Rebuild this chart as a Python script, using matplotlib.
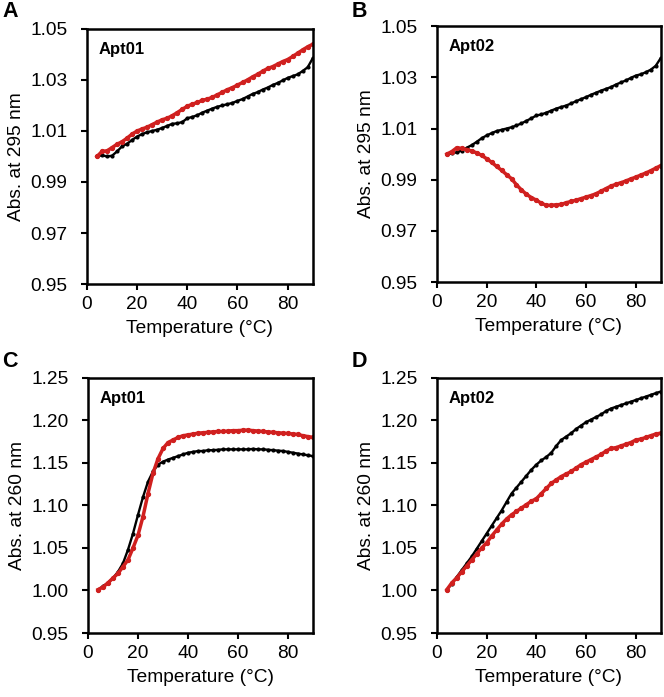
import matplotlib
matplotlib.use("Agg")
import matplotlib.pyplot as plt

plt.rcParams['font.family'] = ['Liberation Sans', 'DejaVu Sans']

# temperature grid (deg C)
temp = list(range(4, 91, 2))

# panel A - Apt01, Abs. at 295 nm
a_black = [1.0000, 1.0005, 1.0000, 1.0003, 1.0020, 1.0040, 1.0050, 1.0065, 1.0078, 1.0088,
           1.0095, 1.0100, 1.0105, 1.0112, 1.0120, 1.0128, 1.0130, 1.0135, 1.0150, 1.0155,
           1.0162, 1.0172, 1.0180, 1.0188, 1.0195, 1.0200, 1.0205, 1.0210, 1.0218, 1.0225,
           1.0235, 1.0245, 1.0252, 1.0262, 1.0270, 1.0280, 1.0288, 1.0298, 1.0308, 1.0315,
           1.0322, 1.0335, 1.0350, 1.0385]
a_red = [1.0000, 1.0020, 1.0022, 1.0035, 1.0048, 1.0058, 1.0072, 1.0088, 1.0100, 1.0108,
         1.0115, 1.0125, 1.0135, 1.0144, 1.0150, 1.0160, 1.0172, 1.0185, 1.0197, 1.0205,
         1.0212, 1.0220, 1.0225, 1.0232, 1.0242, 1.0252, 1.0262, 1.0270, 1.0280, 1.0290,
         1.0300, 1.0312, 1.0322, 1.0334, 1.0345, 1.0352, 1.0362, 1.0372, 1.0380, 1.0392,
         1.0405, 1.0418, 1.0430, 1.0440]

# panel B - Apt02, Abs. at 295 nm
b_black = [1.0000, 1.0003, 1.0007, 1.0014, 1.0025, 1.0035, 1.0048, 1.0062, 1.0073, 1.0082,
           1.0090, 1.0095, 1.0100, 1.0105, 1.0112, 1.0120, 1.0130, 1.0140, 1.0151, 1.0155,
           1.0162, 1.0170, 1.0178, 1.0184, 1.0190, 1.0198, 1.0207, 1.0215, 1.0223, 1.0232,
           1.0240, 1.0248, 1.0255, 1.0262, 1.0272, 1.0280, 1.0288, 1.0298, 1.0307, 1.0312,
           1.0320, 1.0330, 1.0345, 1.0375]
b_red = [1.0000, 1.0010, 1.0025, 1.0022, 1.0018, 1.0012, 1.0005, 0.9995, 0.9982, 0.9968,
         0.9952, 0.9937, 0.9920, 0.9904, 0.9880, 0.9860, 0.9843, 0.9830, 0.9820, 0.9808,
         0.9800, 0.9800, 0.9802, 0.9803, 0.9810, 0.9815, 0.9820, 0.9826, 0.9832, 0.9838,
         0.9845, 0.9855, 0.9865, 0.9875, 0.9882, 0.9888, 0.9895, 0.9903, 0.9910, 0.9918,
         0.9926, 0.9935, 0.9945, 0.9955]

# panel C - Apt01, Abs. at 260 nm
c_black = [1.001, 1.005, 1.009, 1.0146, 1.022, 1.032, 1.048, 1.067, 1.089, 1.110,
           1.128, 1.140, 1.148, 1.1515, 1.154, 1.156, 1.158, 1.160, 1.162, 1.163,
           1.164, 1.164, 1.165, 1.165, 1.1655, 1.166, 1.166, 1.166, 1.166, 1.166,
           1.166, 1.1665, 1.166, 1.166, 1.1655, 1.165, 1.1645, 1.164, 1.163, 1.162,
           1.161, 1.160, 1.159, 1.158]
c_red = [1.001, 1.004, 1.009, 1.0146, 1.020, 1.028, 1.036, 1.050, 1.065, 1.087,
         1.114, 1.138, 1.155, 1.167, 1.174, 1.177, 1.180, 1.182, 1.183, 1.184,
         1.185, 1.1855, 1.186, 1.1866, 1.187, 1.187, 1.1875, 1.188, 1.188, 1.1885,
         1.1886, 1.188, 1.1875, 1.187, 1.1865, 1.186, 1.1855, 1.185, 1.1847, 1.184,
         1.1835, 1.182, 1.181, 1.180]

# panel D - Apt02, Abs. at 260 nm
d_black = [1.001, 1.008, 1.016, 1.024, 1.032, 1.040, 1.049, 1.058, 1.067, 1.076,
           1.085, 1.094, 1.104, 1.114, 1.121, 1.128, 1.135, 1.142, 1.148, 1.153,
           1.157, 1.162, 1.170, 1.177, 1.181, 1.185, 1.190, 1.194, 1.198, 1.201,
           1.204, 1.207, 1.211, 1.214, 1.216, 1.218, 1.220, 1.222, 1.224, 1.226,
           1.228, 1.230, 1.232, 1.234]
d_red = [1.001, 1.009, 1.015, 1.022, 1.029, 1.036, 1.043, 1.050, 1.056, 1.064,
         1.071, 1.078, 1.084, 1.089, 1.093, 1.097, 1.101, 1.105, 1.108, 1.114,
         1.120, 1.126, 1.130, 1.134, 1.137, 1.140, 1.144, 1.148, 1.151, 1.154,
         1.157, 1.160, 1.164, 1.167, 1.168, 1.170, 1.172, 1.174, 1.177, 1.178,
         1.180, 1.182, 1.184, 1.185]

yticks_295 = [0.95, 0.97, 0.99, 1.01, 1.03, 1.05]
yticks_260 = [0.95, 1.00, 1.05, 1.10, 1.15, 1.20, 1.25]
xticks = [0, 20, 40, 60, 80]

RED = '#d0201f'
FS = 13.8

fig = plt.figure(figsize=(6.64, 6.97), dpi=100)

panels = [
    # letter, name, black, red, yticks, ylabel, axes rect, letter position
    ("A", "Apt01", a_black, a_red, yticks_295, "Abs. at 295 nm",
     [0.131, 0.5925, 0.340, 0.366], (0.004, 0.9986)),
    ("B", "Apt02", b_black, b_red, yticks_295, "Abs. at 295 nm",
     [0.658, 0.5954, 0.337, 0.367], (0.529, 0.9986)),
    ("C", "Apt01", c_black, c_red, yticks_260, "Abs. at 260 nm",
     [0.1325, 0.0918, 0.339, 0.366], (0.003, 0.4964)),
    ("D", "Apt02", d_black, d_red, yticks_260, "Abs. at 260 nm",
     [0.658, 0.0918, 0.337, 0.366], (0.529, 0.4964)),
]

for letter, name, blk, red, yt, ylab, rect, lpos in panels:
    ax = fig.add_axes(rect)
    ax.plot(temp, blk, color='black', marker='o', markersize=2.0, linewidth=1.7)
    ax.plot(temp, red, color=RED, marker='o', markersize=2.8, linewidth=2.5)
    ax.set_xlim(0, 90)
    ax.set_ylim(yt[0], yt[-1])
    ax.set_xticks(xticks)
    ax.set_yticks(yt)
    ax.set_yticklabels(["%.2f" % v for v in yt])
    ax.tick_params(direction='out', length=4, width=1.5, labelsize=FS)
    ax.tick_params(axis='x', pad=4.5)
    ax.tick_params(axis='y', pad=10)
    for s in ax.spines.values():
        s.set_linewidth(1.8)
    ax.set_xlabel("Temperature (°C)", fontsize=FS, labelpad=5)
    ax.set_ylabel(ylab, fontsize=FS, labelpad=3.5)
    ax.text(0.05, 0.92, name, transform=ax.transAxes, fontsize=12,
            fontweight='bold', va='center', ha='left')
    fig.text(lpos[0], lpos[1], letter, fontsize=15.5, fontweight='bold',
             va='top', ha='left')

fig.savefig("out.png", dpi=100)
